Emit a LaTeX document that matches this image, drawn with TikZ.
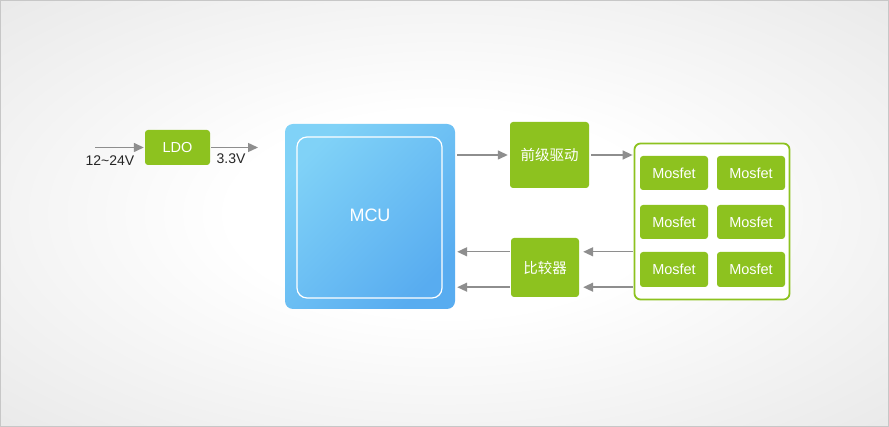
\documentclass[tikz,border=0pt]{standalone}
\usepackage{fontspec}
\setmainfont{Liberation Sans}
\newfontfamily\cjk{Noto Sans CJK SC}
\usetikzlibrary{arrows.meta}
\definecolor{grn}{HTML}{8DC21F}
\definecolor{arrgray}{HTML}{8E8E8E}
\definecolor{mculight}{HTML}{80D2F7}
\definecolor{mcudark}{HTML}{58ACF0}
\definecolor{bgedge}{HTML}{DCDCDC}
\pgfdeclareradialshading{bgshade}{\pgfpoint{0bp}{0bp}}{color(0bp)=(white); color(12bp)=(white); color(50bp)=(bgedge); color(72bp)=(bgedge)}
\tikzset{
  gbox/.style={fill=grn, rounded corners=3pt, inner sep=0pt, text=white, font=\fontsize{14.5}{16}\selectfont},
  mos/.style={gbox, minimum width=68pt, minimum height=34pt},
  arr/.style={draw=arrgray, line width=1.4pt, -{Triangle[length=10pt,width=9pt]}},
  lbl/.style={text=black!85, font=\fontsize{14}{16}\selectfont, inner sep=0pt}
}
\begin{document}
\begin{tikzpicture}[x=1pt,y=-1pt]
\useasboundingbox (0,0) rectangle (889,427);
\shade[shading=bgshade] (0,0) rectangle (889,427);
\draw[draw=black!22, line width=1pt] (0.5,0.5) rectangle (888.5,426.5);
% LDO
\node[gbox, minimum width=65pt, minimum height=35pt] (ldo) at (177.5,147.5) {LDO};
\coordinate (vin) at (95,147.5);
\coordinate (vout) at (258,147.5);
\draw[arr, shorten >=1pt] (vin) -- (ldo.west);
\draw[arr, shorten <=1pt] (ldo.east) -- (vout);
\node[lbl] (l1) at (110,161) {12\textasciitilde 24V};
\node[lbl] (l2) at (231,159) {3.3V};
% MCU
\node[rounded corners=8pt, minimum width=170pt, minimum height=185pt, inner sep=0pt,
      left color=mcudark, right color=mculight, shading angle=225] (mcu) at (370,216.5) {};
\node[draw=white, line width=1.2pt, rounded corners=10pt, minimum width=145pt, minimum height=161pt] (mcuin) at (369.5,217.5) {};
\node[text=white, font=\fontsize{18}{20}\selectfont] (mcut) at (370,215) {MCU};
% pre-driver and comparator
\node[gbox, minimum width=79pt, minimum height=66pt] (pre) at (549.5,155) {\cjk 前级驱动};
\node[gbox, minimum width=68pt, minimum height=59pt] (cmp) at (545,267.5) {\cjk 比较器};
% Mosfet container
\node[draw=grn, fill=white, line width=1.8pt, rounded corners=6pt, minimum width=155pt, minimum height=156pt] (box) at (712,221.5) {};
\node[mos] (m11) at (674,173) {Mosfet};
\node[mos] (m12) at (751,173) {Mosfet};
\node[mos] (m21) at (674,222) {Mosfet};
\node[mos] (m22) at (751,222) {Mosfet};
\node[mos, minimum height=35pt] (m31) at (674,269.5) {Mosfet};
\node[mos, minimum height=35pt] (m32) at (751,269.5) {Mosfet};
% connectors
\draw[arr, shorten <=2pt, shorten >=2pt] (mcu.east |- pre.west) -- (pre.west);
\draw[arr, shorten <=2pt, shorten >=1pt] (pre.east) -- (pre.east -| box.west);
\draw[arr, shorten <=1pt, shorten >=4pt] (box.west |- m31.north) -- (cmp.east |- m31.north);
\draw[arr, shorten <=1pt, shorten >=4pt] (box.west |- m31.south) -- (cmp.east |- m31.south);
\draw[arr, shorten <=1pt, shorten >=2pt] (cmp.west |- m31.north) -- (mcu.east |- m31.north);
\draw[arr, shorten <=1pt, shorten >=2pt] (cmp.west |- m31.south) -- (mcu.east |- m31.south);
\end{tikzpicture}
\end{document}
